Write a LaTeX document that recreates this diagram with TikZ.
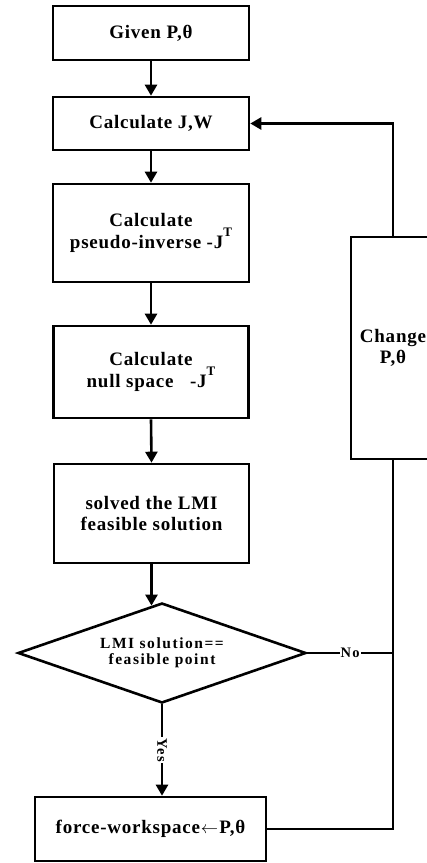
\documentclass[tikz,border=0pt]{standalone}
\usepackage{fontspec}
\setmainfont{Liberation Serif}
\newfontfamily\boxfont[LetterSpace=4]{Liberation Serif}
\newfontfamily\decfont[LetterSpace=10]{Liberation Serif}
\usetikzlibrary{shapes.geometric,arrows.meta,calc}
\newcommand{\supT}{\raisebox{0.6em}{\fontsize{13}{13}\selectfont T}}
\begin{document}
\begin{tikzpicture}[x=1pt,y=-1pt,
  every node/.style={font=\boxfont\bfseries\fontsize{19}{21.5}\selectfont, align=center},
  box/.style={draw, line width=2.6pt, rectangle, inner sep=0pt},
  dec/.style={draw, line width=2.6pt, diamond, aspect=2.88, inner sep=0pt, minimum width=288pt, minimum height=100pt, font=\decfont\bfseries\fontsize{15.5}{16.5}\selectfont},
  lbl/.style={fill=white, inner sep=1pt, font=\decfont\bfseries\fontsize{14.5}{16}\selectfont},
  conn/.style={line width=2.6pt},
  arr/.style={conn, -{Triangle[length=11pt,width=12pt]}}
]
\useasboundingbox (0,0) rectangle (427,863);
\node[box, minimum width=196pt, minimum height=54pt] (b1) at (151,33) {Given P,θ};
\node[box, minimum width=196pt, minimum height=53pt] (b2) at (151,123.5) {Calculate J,W};
\node[box, minimum width=196pt, minimum height=98pt] (b3) at (151,233) {Calculate\\pseudo-inverse -J\supT};
\node[box, minimum width=195pt, minimum height=92pt] (b4) at (151,372) {Calculate\\null space \ \ -J\supT};
\node[box, minimum width=195pt, minimum height=99pt] (b5) at (151.5,513.5) {solved the LMI\\feasible solution};
\node[dec] (d) at (162,653) {LMI solution==\\feasible point};
\node[box, minimum width=231pt, minimum height=64pt] (b6) at (150.5,829) {force-workspace\hspace{1pt}$\leftarrow$\hspace{1pt}P,θ};
\node[box, minimum width=84pt, minimum height=222pt] (ch) at (393,348) {Change\\P,θ};
\coordinate (dtop) at ($(d.north)!0.076!(d.west)$);
\draw[arr] (b1.south) -- (b2.north);
\draw[arr] (b2.south) -- (b3.north);
\draw[arr] (b3.south) -- (b4.north);
\draw[arr] (b4.south) -- (b5.north);
\draw[arr] (b5.south) -- (b5.south |- dtop);
\draw[arr] (d.south) -- node[lbl, rotate=-90] (yes) {Yes} (d.south |- b6.north);
\draw[conn] (d.east) -- node[lbl] (no) {No} (d.east -| ch.south);
\draw[arr] (ch.north) |- (b2.east);
\draw[conn] (ch.south) |- (b6.east);
\end{tikzpicture}
\end{document}
